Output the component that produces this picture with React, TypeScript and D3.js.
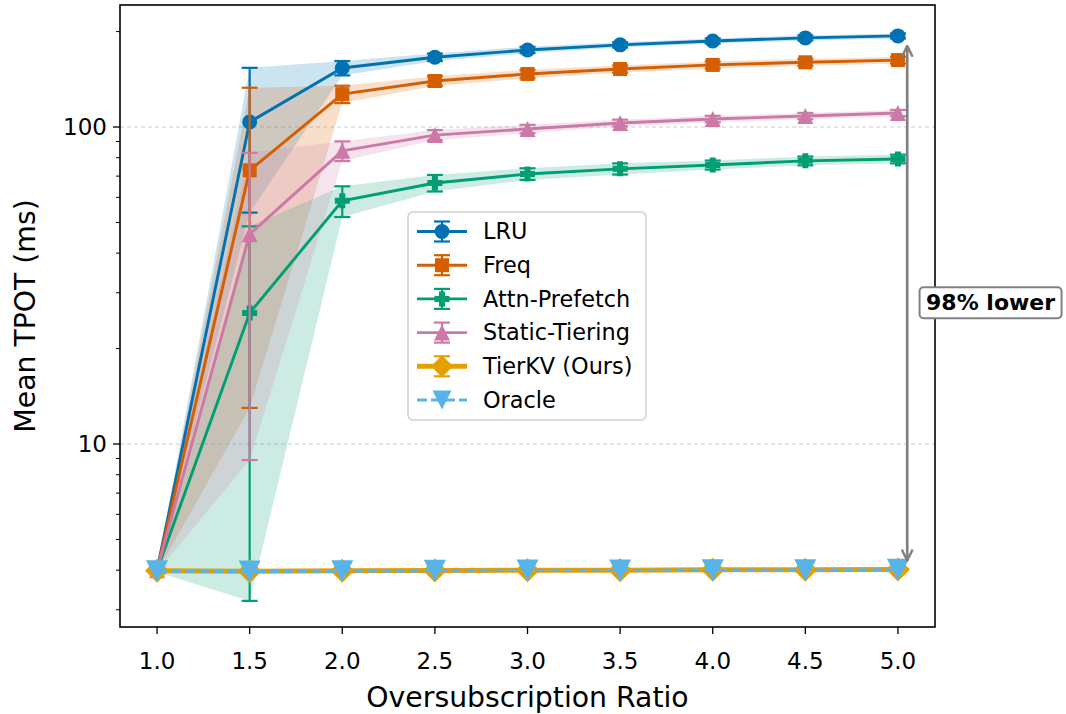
import * as d3 from "d3";

const WIDTH = 1066;
const HEIGHT = 714;
const MARGIN = { top: 5, right: 131, bottom: 87, left: 120 };
const FONT = "DejaVu Sans, Liberation Sans, sans-serif";

// data (ms)
const ratios = [1.0, 1.5, 2.0, 2.5, 3.0, 3.5, 4.0, 4.5, 5.0];
const xTicks = [1.0, 1.5, 2.0, 2.5, 3.0, 3.5, 4.0, 4.5, 5.0];
const yMajorTicks = [10, 100];
const yMinorTicks = [3, 4, 5, 6, 7, 8, 9, 20, 30, 40, 50, 60, 70, 80, 90, 200];
const Y_LIMITS = [2.647, 242.6];
const X_LIMITS = [0.8, 5.2];

const lruMean = [4.0, 103.7, 153.5, 166, 175, 181.6, 186.8, 191, 193.8];
const lruStd = [0.05, 50, 8, 4.5, 4, 3.5, 3.5, 3.5, 3.5];
const freqMean = [4.0, 73, 127, 139.7, 147, 152.4, 157, 160, 162.6];
const freqStd = [0.05, 60, 8, 5, 4.5, 4, 4, 4, 4];
const attnMean = [4.0, 25.9, 58.5, 66.6, 71.1, 73.8, 75.9, 78.2, 79.3];
const attnStd = [0.05, 22.7, 6.5, 4, 3, 3, 2.5, 2.5, 2.5];
const staticMean = [4.0, 45.9, 84.1, 94.3, 98.6, 103, 106, 108.3, 110.7];
const staticStd = [0.05, 37, 6, 3.5, 3, 2.5, 2.5, 2.5, 2.5];
const tierkvMean = [3.98, 3.97, 3.98, 3.99, 4.0, 4.0, 4.01, 4.01, 4.02];
const oracleMean = [3.97, 3.96, 3.97, 3.98, 3.99, 3.99, 4.0, 4.0, 4.01];

const baselines = [
  { name: "LRU", color: "#0072B2", marker: "circle", mean: lruMean, std: lruStd },
  { name: "Freq", color: "#D55E00", marker: "square", mean: freqMean, std: freqStd },
  { name: "Attn-Prefetch", color: "#009E73", marker: "plus", mean: attnMean, std: attnStd },
  { name: "Static-Tiering", color: "#CC79A7", marker: "triangle", mean: staticMean, std: staticStd },
];

const markerPath = (kind: string, s: number) => {
  switch (kind) {
    case "circle":
      return `M${s},0A${s},${s} 0 1,1 ${-s},0A${s},${s} 0 1,1 ${s},0Z`;
    case "square":
      return `M${-s},${-s}H${s}V${s}H${-s}Z`;
    case "triangle":
      return `M0,${-s}L${s},${s}L${-s},${s}Z`;
    case "triangleDown":
      return `M0,${s}L${s},${-s}L${-s},${-s}Z`;
    case "diamond":
      return `M0,${-s}L${s},0L0,${s}L${-s},0Z`;
    case "plus": {
      const w = s * 0.4;
      return `M${-w},${-s}H${w}V${-w}H${s}V${w}H${w}V${s}H${-w}V${w}H${-s}V${-w}H${-w}Z`;
    }
    default:
      return "";
  }
};

const markerSize: Record<string, number> = {
  circle: 7.5,
  square: 7,
  triangle: 8,
  plus: 7.5,
  diamond: 12,
  triangleDown: 11,
};

const LW = 2.9;
const TIER_LW = 5;

const App = () => {
  const boundsWidth = WIDTH - MARGIN.left - MARGIN.right;
  const boundsHeight = HEIGHT - MARGIN.top - MARGIN.bottom;

  const xScale = d3.scaleLinear().domain(X_LIMITS).range([0, boundsWidth]);
  const yScale = d3.scaleLog().domain(Y_LIMITS).range([boundsHeight, 0]);

  const line = d3
    .line<number>()
    .x((_, i) => xScale(ratios[i]))
    .y((d) => yScale(d));

  // fill_between mean +- std
  const bands = baselines.map((b) => {
    const area = d3
      .area<number>()
      .x((_, i) => xScale(ratios[i]))
      .y0((d, i) => yScale(Math.max(d - b.std[i], 0.1)))
      .y1((d, i) => yScale(d + b.std[i]));
    return (
      <path key={b.name} d={area(b.mean) || ""} fill={b.color} opacity={0.2} />
    );
  });

  const CAP = 8;
  const series = baselines.map((b) => (
    <g key={b.name}>
      <path d={line(b.mean) || ""} fill="none" stroke={b.color} strokeWidth={LW} />
      {b.mean.map((m, i) => {
        const x = xScale(ratios[i]);
        const yTop = yScale(m + b.std[i]);
        const yBot = yScale(Math.max(m - b.std[i], 0.1));
        return (
          <g key={i} stroke={b.color} strokeWidth={2.2}>
            <line x1={x} x2={x} y1={yTop} y2={yBot} />
            <line x1={x - CAP} x2={x + CAP} y1={yTop} y2={yTop} />
            <line x1={x - CAP} x2={x + CAP} y1={yBot} y2={yBot} />
          </g>
        );
      })}
      {b.mean.map((m, i) => (
        <path
          key={i}
          d={markerPath(b.marker, markerSize[b.marker])}
          transform={`translate(${xScale(ratios[i])},${yScale(m)})`}
          fill={b.color}
        />
      ))}
    </g>
  ));

  const tierkv = (
    <g>
      <path d={line(tierkvMean) || ""} fill="none" stroke="#E69F00" strokeWidth={TIER_LW} />
      {tierkvMean.map((m, i) => (
        <path
          key={i}
          d={markerPath("diamond", markerSize.diamond)}
          transform={`translate(${xScale(ratios[i])},${yScale(m)})`}
          fill="#E69F00"
        />
      ))}
    </g>
  );

  const oracle = (
    <g>
      <path
        d={line(oracleMean) || ""}
        fill="none"
        stroke="#56B4E9"
        strokeWidth={LW}
        strokeDasharray="10,4"
      />
      {oracleMean.map((m, i) => (
        <path
          key={i}
          d={markerPath("triangleDown", markerSize.triangleDown)}
          transform={`translate(${xScale(ratios[i])},${yScale(m)})`}
          fill="#56B4E9"
        />
      ))}
    </g>
  );

  const grid = yMajorTicks.map((v) => (
    <line
      key={v}
      x1={0}
      x2={boundsWidth}
      y1={yScale(v)}
      y2={yScale(v)}
      stroke="#cccccc"
      strokeWidth={1}
      strokeDasharray="4,3"
    />
  ));

  const xAxis = xTicks.map((v) => (
    <g key={v} transform={`translate(${xScale(v)},${boundsHeight})`}>
      <line y1={0} y2={7} stroke="black" strokeWidth={1.3} />
      <text y={42} textAnchor="middle" fontSize={23} fontFamily={FONT}>
        {v.toFixed(1)}
      </text>
    </g>
  ));

  const yAxis = (
    <g>
      {yMajorTicks.map((v) => (
        <g key={v} transform={`translate(0,${yScale(v)})`}>
          <line x1={0} x2={-7} stroke="black" strokeWidth={1.3} />
          <text x={-13} dy="0.35em" textAnchor="end" fontSize={23} fontFamily={FONT}>
            {v}
          </text>
        </g>
      ))}
      {yMinorTicks.map((v) => (
        <line
          key={v}
          x1={0}
          x2={-4}
          y1={yScale(v)}
          y2={yScale(v)}
          stroke="black"
          strokeWidth={1}
        />
      ))}
    </g>
  );

  // annotation: double arrow at the right edge from worst baseline to TierKV
  const arrowX = xScale(5.05);
  const arrowTop = yScale(lruMean[lruMean.length - 1]) + 10;
  const arrowBot = yScale(tierkvMean[tierkvMean.length - 1]) - 9;
  const labelX = xScale(5.5);
  const labelY = yScale(
    Math.sqrt(lruMean[lruMean.length - 1] * tierkvMean[tierkvMean.length - 1])
  );

  const legendItems = [
    ...baselines.map((b) => ({ name: b.name, color: b.color, marker: b.marker, width: LW, dash: "", err: true })),
    { name: "TierKV (Ours)", color: "#E69F00", marker: "diamond", width: TIER_LW, dash: "", err: true },
    { name: "Oracle", color: "#56B4E9", marker: "triangleDown", width: LW, dash: "10,4", err: false },
  ];

  const legend = (
    <g transform="translate(288,207)">
      <rect
        x={0}
        y={0}
        width={238}
        height={208}
        rx={5}
        fill="white"
        fillOpacity={0.8}
        stroke="#d0d0d0"
        strokeWidth={1.5}
      />
      {legendItems.map((d, i) => {
        const y = 19.5 + i * 33.7;
        return (
          <g key={d.name} transform={`translate(0,${y})`}>
            <line x1={9} x2={59} stroke={d.color} strokeWidth={d.width} strokeDasharray={d.dash} />
            {d.err && (
              <g stroke={d.color} strokeWidth={2.2}>
                <line x1={34} x2={34} y1={-10} y2={10} />
                <line x1={26} x2={42} y1={-10} y2={-10} />
                <line x1={26} x2={42} y1={10} y2={10} />
              </g>
            )}
            <path
              d={markerPath(d.marker, d.marker === "diamond" ? 11 : d.marker === "triangleDown" ? 9.5 : markerSize[d.marker])}
              transform="translate(34,0)"
              fill={d.color}
            />
            <text x={75} dy="0.35em" fontSize={22.4} fontFamily={FONT}>
              {d.name}
            </text>
          </g>
        );
      })}
    </g>
  );

  return (
    <svg
      width={WIDTH}
      height={HEIGHT}
      style={{ position: "absolute", left: 0, top: 0, background: "white" }}
    >
      <defs>
        <clipPath id="plot-clip">
          <rect x={0} y={0} width={boundsWidth} height={boundsHeight} />
        </clipPath>
        <marker
          id="arrow-head"
          viewBox="0 0 12 12"
          refX={11}
          refY={6}
          markerWidth={13}
          markerHeight={13}
          markerUnits="userSpaceOnUse"
          orient="auto-start-reverse"
        >
          <path d="M1,1L11,6L1,11" fill="none" stroke="#808080" strokeWidth={2.2} />
        </marker>
      </defs>
      <g transform={`translate(${MARGIN.left},${MARGIN.top})`}>
        <g>{grid}</g>
        <g clipPath="url(#plot-clip)">
          <g>{bands}</g>
          <g>{series}</g>
          {tierkv}
          {oracle}
        </g>
        <line
          x1={arrowX}
          x2={arrowX}
          y1={arrowTop}
          y2={arrowBot}
          stroke="#808080"
          strokeWidth={2.7}
          markerStart="url(#arrow-head)"
          markerEnd="url(#arrow-head)"
        />
        {legend}
        <rect
          x={0}
          y={0}
          width={boundsWidth}
          height={boundsHeight}
          fill="none"
          stroke="black"
          strokeWidth={1.6}
        />
        {xAxis}
        {yAxis}
        <g transform={`translate(${labelX},${labelY})`}>
          <rect x={-71} y={-15.5} width={142} height={31} rx={4} fill="white" stroke="#808080" strokeWidth={2} />
          <text dy="0.35em" textAnchor="middle" fontSize={22} fontWeight="bold" fontFamily={FONT}>
            98% lower
          </text>
        </g>
        <text
          x={boundsWidth / 2}
          y={boundsHeight + 80}
          textAnchor="middle"
          fontSize={28.3}
          fontFamily={FONT}
        >
          Oversubscription Ratio
        </text>
        <text
          transform={`translate(${35 - MARGIN.left},${boundsHeight / 2}) rotate(-90)`}
          textAnchor="middle"
          fontSize={28.3}
          fontFamily={FONT}
        >
          Mean TPOT (ms)
        </text>
      </g>
    </svg>
  );
};

export default App;
